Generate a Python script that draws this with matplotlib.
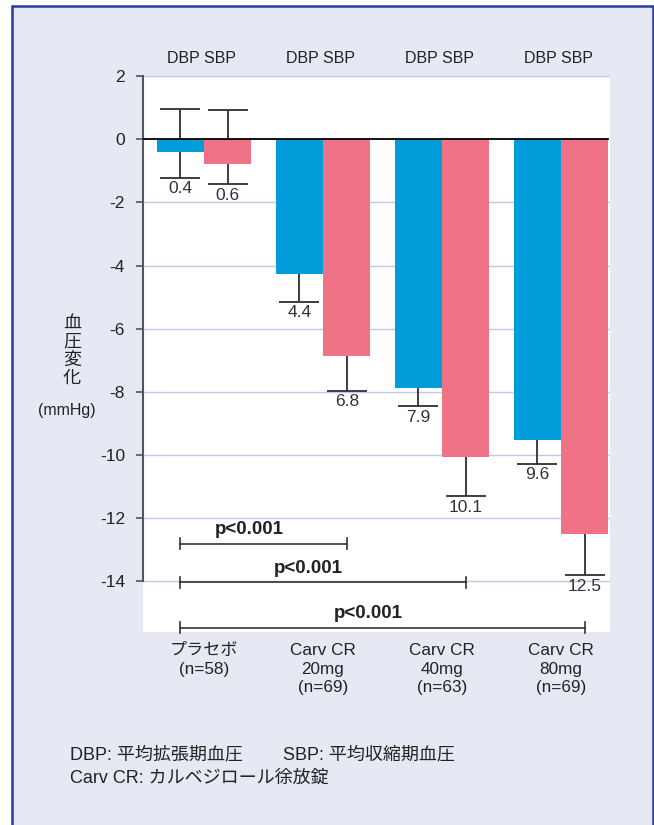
import matplotlib
matplotlib.use("Agg")
import matplotlib.pyplot as plt
from matplotlib.patches import Rectangle
import numpy as np

plt.rcParams['font.family'] = ['Liberation Sans', 'Noto Sans CJK JP', 'DejaVu Sans']

# ---- data ----
groups = ["プラセボ\n(n=58)", "Carv CR\n20mg\n(n=69)", "Carv CR\n40mg\n(n=63)", "Carv CR\n80mg\n(n=69)"]
dbp = [-0.4, -4.28, -7.88, -9.53]
sbp = [-0.78, -6.86, -10.07, -12.51]
dbp_err_lo = [0.82, 0.87, 0.57, 0.75]
dbp_err_hi = [1.35, 0.87, 0.57, 0.75]
sbp_err_lo = [0.65, 1.11, 1.23, 1.30]
sbp_err_hi = [1.70, 1.11, 1.23, 1.30]
dbp_labels = ["0.4", "4.4", "7.9", "9.6"]
sbp_labels = ["0.6", "6.8", "10.1", "12.5"]
yticks = [2, 0, -2, -4, -6, -8, -10, -12, -14]
pvals = ["p<0.001", "p<0.001", "p<0.001"]
p_targets = [1, 2, 3]
p_levels = [-12.8, -14.03, -15.46]

BLUE = "#009dda"
PINK = "#f07287"
GRID = "#c3c6ea"
BG = "#e6e8f4"
TXT = "#333333"

W, H = 654, 825
fig = plt.figure(figsize=(W / 100, H / 100), dpi=100, facecolor="white")

# background panel with blue frame
bg = Rectangle((12 / W, -0.01), (653 - 12) / W, 1 - 6 / H + 0.01,
               transform=fig.transFigure, facecolor=BG,
               edgecolor="#2b3a9e", linewidth=1.8, zorder=-10)
fig.patches.append(bg)

ax_left, ax_right, ax_top, ax_bot = 143, 610, 76, 632
ax = fig.add_axes([ax_left / W, 1 - ax_bot / H, (ax_right - ax_left) / W, (ax_bot - ax_top) / H])
ax.set_zorder(1)
ax.set_facecolor("white")

x = np.arange(len(groups))
bw = 0.395
off = 0.2
xl_min = -(204 - ax_left) / 119
xl_max = (ax_right - 204) / 119
ax.set_xlim(xl_min, xl_max)
ax.set_ylim(-15.6, 2)

# gridlines
for t in yticks:
    if t != 0:
        ax.axhline(t, color=GRID, lw=1.0, zorder=1)

# error bars (behind bars)
ax.errorbar(x - off, dbp, yerr=[dbp_err_lo, dbp_err_hi], fmt="none", ecolor="#2f2f2f",
            elinewidth=1.3, capsize=14.5, capthick=1.3, zorder=2)
ax.errorbar(x + off, sbp, yerr=[sbp_err_lo, sbp_err_hi], fmt="none", ecolor="#2f2f2f",
            elinewidth=1.3, capsize=14.5, capthick=1.3, zorder=2)

ax.bar(x - off, dbp, width=bw, color=BLUE, zorder=3)
ax.bar(x + off, sbp, width=bw, color=PINK, zorder=3)

ax.axhline(0, xmax=(3 + off + bw / 2 - xl_min) / (xl_max - xl_min), color="black", lw=1.3, zorder=4)

# value labels under caps
for i in range(len(groups)):
    ax.annotate(dbp_labels[i], (x[i] - off, dbp[i] - dbp_err_lo[i]), xytext=(0, -2.5),
                textcoords="offset points", ha="center", va="top", fontsize=12.5, color=TXT)
    ax.annotate(sbp_labels[i], (x[i] + off, sbp[i] - sbp_err_lo[i]), xytext=(0, -2.5),
                textcoords="offset points", ha="center", va="top", fontsize=12.5, color=TXT)

# header
for i in range(len(groups)):
    ax.text(x[i] - 0.02, 2.55, "DBP SBP", ha="center", va="center", fontsize=11.5,
            color="#222222", clip_on=False)

# p-value brackets
tick_h = 0.17
for tgt, lvl, p in zip(p_targets, p_levels, pvals):
    x0, x1 = x[0] - off, x[tgt] + off
    ax.plot([x0, x1], [lvl, lvl], color="#333333", lw=1.2, zorder=4, clip_on=False)
    ax.plot([x0, x0], [lvl - tick_h, lvl + tick_h], color="#333333", lw=1.2, zorder=4, clip_on=False)
    ax.plot([x1, x1], [lvl - tick_h, lvl + tick_h], color="#333333", lw=1.2, zorder=4, clip_on=False)
    ax.text((x0 + x1) / 2 - 0.12, lvl + 0.18, p, ha="center", va="bottom", fontsize=13.5,
            fontweight="bold", color="#222222")

# spines & ticks
for s in ["top", "right", "bottom"]:
    ax.spines[s].set_visible(False)
ax.spines["left"].set_bounds(-14, 2)
ax.spines["left"].set_color("#555555")
ax.spines["left"].set_linewidth(1.5)
ax.set_yticks(yticks)
ax.set_yticklabels([str(t) for t in yticks])
ax.tick_params(axis="y", length=5, width=1.2, color="#555555", labelsize=12.5, labelcolor="#222222", pad=8)
ax.set_xticks(x)
ax.set_xticklabels(groups, fontsize=12.3, color="#222222", linespacing=1.3)
ax.tick_params(axis="x", length=0, pad=8)

# y label
fig.text(72 / W, 1 - 351 / H, "血\n圧\n変\n化", ha="center", va="center", fontsize=13,
         color="#222222", linespacing=1.1)
fig.text(67 / W, 1 - 410 / H, "(mmHg)", ha="center", va="center", fontsize=11.5, color="#222222")

# footnotes
fig.text(70 / W, 1 - 755 / H, "DBP: 平均拡張期血圧", ha="left", va="center",
         fontsize=13, color="#222222")
fig.text(283 / W, 1 - 755 / H, "SBP: 平均収縮期血圧", ha="left", va="center",
         fontsize=13, color="#222222")
fig.text(70 / W, 1 - 778 / H, "Carv CR: カルベジロール徐放錠", ha="left", va="center",
         fontsize=13, color="#222222")

fig.savefig("out.png", dpi=100, facecolor="white")
